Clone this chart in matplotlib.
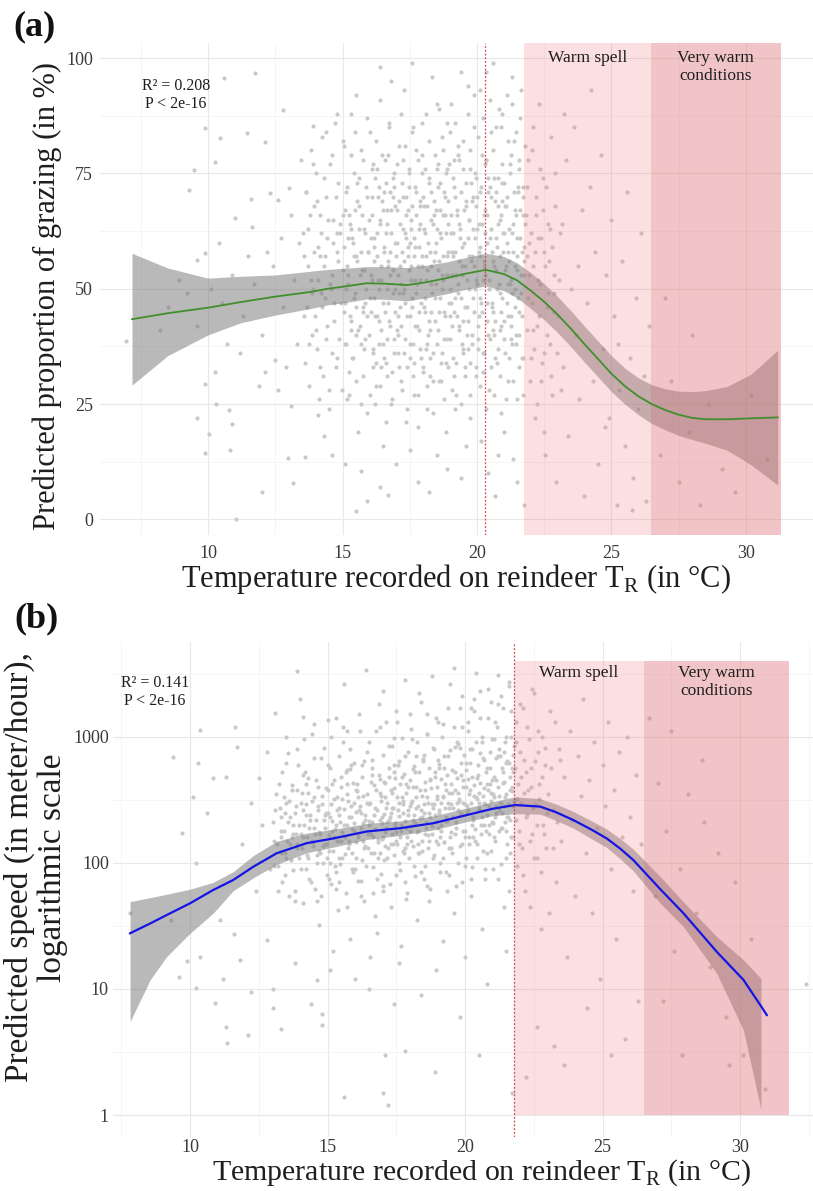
import matplotlib
matplotlib.use("Agg")
import numpy as np
import matplotlib.pyplot as plt
from matplotlib.patches import Rectangle
from matplotlib.ticker import FixedLocator, NullFormatter, FixedFormatter

plt.rcParams['font.family'] = ['Liberation Serif', 'DejaVu Serif']

# ---------------- panel (a): grazing ----------------
temp_fit_a = [7.17, 8.5, 10.0, 11.2, 12.5, 13.8, 14.45, 15.2, 15.9, 16.6, 17.4, 18.1, 18.86, 19.6,
              20.33, 21.0, 21.5, 22.0, 22.5, 23.0, 23.5, 24.0, 24.5, 25.0, 25.5, 26.0, 26.5,
              27.0, 27.5, 28.0, 28.5, 29.3, 30.2, 31.19]
graze_fit_a = [43.4, 44.7, 45.9, 47.1, 48.3, 49.3, 50.0, 50.6, 51.2, 51.1, 50.8, 51.4, 52.3, 53.3,
               54.1, 53.2, 51.8, 49.6, 47.2, 44.4, 41.3, 38.0, 34.8, 31.6, 28.9, 26.7, 25.0,
               23.7, 22.7, 22.0, 21.7, 21.7, 21.9, 22.1]
graze_hi_a = [57.7, 54.5, 52.3, 52.7, 53.0, 53.8, 54.2, 54.5, 54.8, 54.8, 54.6, 55.1, 55.8, 56.8,
              57.7, 57.0, 55.6, 53.5, 51.1, 48.3, 45.2, 41.9, 38.7, 35.5, 32.8, 30.7, 29.2,
              28.3, 27.8, 27.7, 27.9, 28.8, 31.5, 36.7]
graze_lo_a = [29.1, 35.5, 40.0, 42.6, 44.3, 45.7, 46.5, 47.1, 47.8, 47.7, 47.4, 48.0, 48.9, 49.9,
              50.6, 49.6, 48.0, 45.7, 43.3, 40.5, 37.4, 34.1, 30.9, 27.7, 25.0, 22.7, 20.8,
              19.4, 18.2, 17.3, 16.5, 15.0, 11.8, 7.4]

# sparse observations + first pass over the cloud
obs_a = [
    (6.95, 38.7), (8.2, 41), (8.5, 46), (8.9, 52), (9.2, 49), (9.3, 71.4), (9.47, 75.7), (9.9, 84.8),
    (9.58, 56.2), (9.9, 57.7), (9.6, 42), (9.87, 29.3), (9.9, 14.4), (9.6, 22),
    (10.27, 77.6), (10.45, 82.6), (10.6, 95.7), (11.0, 65.3), (11.44, 83.7), (11.74, 96.7), (11.6, 69.5),
    (11.65, 63.3), (12.1, 81.9), (12.3, 70.7), (12.6, 69.3), (12.79, 88.8), (12.73, 61.0), (13.0, 71.8),
    (13.46, 77.9), (13.9, 85.2), (14.4, 84.1), (10.27, 31.9), (10.3, 25), (10.05, 18.4), (10.76, 23.7),
    (10.9, 20.6), (10.8, 15), (11.99, 5.9), (11.05, 0), (12.1, 32), (12.5, 34.5), (13.1, 24.5),
    (13.16, 7.8), (12.97, 13.4), (13.6, 13.6), (14.1, 22.6), (14.6, 14), (15.5, 1.9), (15.7, 10.5),
    (16.4, 7), (16.7, 5.3), (10.1, 50), (10.5, 47), (10.9, 53), (11.3, 44), (11.7, 51), (12.0, 40),
    (12.4, 55), (12.8, 46), (13.2, 52), (13.3, 38), (11.2, 36), (12.2, 58), (10.7, 38), (11.9, 29),
    (12.9, 33), (13.4, 60), (12.6, 28), (11.5, 57), (13.1, 66), (10.4, 60),
    (13.52, 62), (13.58, 44), (13.63, 71), (13.7, 55), (13.74, 38), (13.8, 66), (13.86, 49), (13.9, 77),
    (13.95, 58), (14.02, 41), (14.06, 69), (14.1, 52), (14.15, 33), (14.2, 62), (14.24, 46), (14.3, 74),
    (14.34, 57), (14.4, 39), (14.45, 65), (14.5, 28), (14.55, 51), (14.6, 79), (14.63, 60), (14.7, 43),
    (14.75, 70), (14.8, 35), (14.85, 56), (14.9, 64), (14.95, 47), (15.0, 82),
    (15.04, 59), (15.08, 38), (15.12, 71), (15.16, 26), (15.2, 53), (15.24, 66), (15.28, 44), (15.32, 88),
    (15.36, 61), (15.4, 35), (15.44, 75), (15.48, 49), (15.52, 57), (15.56, 19), (15.6, 68), (15.64, 42),
    (15.68, 80), (15.72, 54), (15.76, 31), (15.8, 63), (15.84, 47), (15.88, 72), (15.92, 23), (15.96, 58),
    (16.02, 84), (16.06, 45), (16.1, 66), (16.14, 37), (16.18, 56), (16.22, 74), (16.26, 29), (16.3, 62),
    (16.34, 50), (16.38, 91), (16.42, 41), (16.46, 69), (16.5, 16), (16.54, 58), (16.58, 78), (16.62, 34),
    (16.66, 64), (16.7, 47), (16.74, 86), (16.78, 53), (16.82, 25), (16.86, 70), (16.9, 39), (16.94, 60),
    (16.98, 12), (17.02, 67), (17.06, 44), (17.1, 81), (17.14, 55), (17.18, 30), (17.22, 73), (17.26, 49),
    (17.3, 93), (17.34, 62), (17.38, 21), (17.42, 57), (17.46, 76), (17.5, 38), (17.54, 65), (17.58, 46),
    (17.62, 85), (17.66, 27), (17.7, 59), (17.74, 71), (17.78, 42), (17.82, 8), (17.86, 63), (17.9, 52),
    (17.94, 79), (17.98, 33), (18.02, 68), (18.06, 48), (18.1, 88), (18.14, 24), (18.18, 60), (18.22, 74),
    (18.26, 41), (18.3, 55), (18.34, 96), (18.38, 36), (18.42, 66), (18.46, 51), (18.5, 14), (18.54, 77),
    (18.58, 45), (18.62, 62), (18.66, 30), (18.7, 83), (18.74, 57), (18.78, 39), (18.82, 70), (18.86, 19),
    (18.9, 53), (18.94, 64), (18.98, 44), (19.02, 90), (19.06, 58), (19.1, 35), (19.14, 72), (19.18, 48),
    (19.22, 27), (19.26, 66), (19.3, 81), (19.34, 42), (19.38, 61), (19.42, 9), (19.46, 53), (19.5, 76),
    (19.54, 33), (19.58, 68), (19.62, 46), (19.66, 94), (19.7, 57), (19.74, 22), (19.78, 73), (19.82, 40),
    (19.86, 63), (19.9, 85), (19.94, 50), (19.98, 31), (20.02, 70), (20.06, 44), (20.1, 59), (20.14, 17),
    (20.18, 79), (20.22, 52), (20.26, 36), (20.3, 67), (20.34, 97), (20.38, 47), (20.42, 74), (20.46, 28),
    (20.5, 61), (20.54, 84), (20.58, 41), (20.62, 55), (20.66, 5), (20.7, 71), (20.74, 34), (20.78, 64),
    (20.82, 89), (20.86, 49), (20.9, 23), (20.94, 77), (20.98, 58), (21.02, 43), (21.06, 68), (21.1, 92),
    (21.14, 30), (21.18, 56), (21.22, 75), (21.26, 39), (21.3, 62), (21.34, 13), (21.38, 82), (21.42, 50),
    (21.46, 66), (21.5, 26), (21.54, 71), (21.58, 45), (21.62, 87), (21.66, 58), (21.7, 35), (21.74, 3),
    (21.78, 64),
    (15.1, 47), (15.3, 63), (15.5, 40), (15.7, 58), (15.9, 70), (16.1, 52), (16.3, 44), (16.5, 67),
    (16.7, 56), (16.9, 75), (17.1, 49), (17.3, 36), (17.5, 60), (17.7, 52), (17.9, 68), (18.1, 57),
    (18.3, 45), (18.5, 63), (18.7, 50), (18.9, 76), (19.1, 62), (19.3, 51), (19.5, 43), (19.7, 65),
    (19.9, 55), (20.1, 48), (20.3, 62), (20.5, 72), (20.7, 54), (20.9, 42), (21.1, 60), (21.3, 49),
    (21.5, 57), (21.7, 70), (15.15, 55), (15.45, 67), (15.75, 45), (16.05, 61), (16.35, 72), (16.65, 39),
    (16.95, 50), (17.25, 63), (17.55, 55), (17.85, 45), (18.15, 38), (18.45, 58), (18.75, 66), (19.05, 47),
    (19.35, 56), (19.65, 37), (19.95, 68), (20.25, 56), (20.55, 46), (20.85, 65), (21.15, 51), (21.45, 40),
    (21.75, 53), (15.25, 32), (15.85, 39), (16.45, 33), (17.05, 40), (17.65, 34), (18.25, 31), (18.85, 34),
    (19.45, 38), (20.05, 39), (20.65, 40), (21.25, 44), (15.55, 73), (16.15, 77), (16.75, 71), (17.35, 70),
    (17.95, 75), (18.55, 72), (19.15, 78), (19.75, 80), (20.35, 78), (20.95, 69), (21.55, 78),
    (14.3, 18), (15.1, 12), (15.9, 4), (16.6, 21), (17.5, 15), (18.2, 6), (18.9, 11), (19.6, 16),
    (20.4, 10), (21.0, 19), (21.5, 8), (16.2, 25), (19.2, 24), (20.8, 14), (17.8, 20),
    (14.8, 88), (15.5, 92), (16.8, 95), (17.6, 99), (18.6, 89), (19.4, 97), (20.1, 93), (20.6, 99),
    (21.3, 96), (18.9, 86), (20.9, 85), (16.4, 98),
    (21.85, 72), (21.9, 48), (21.95, 60), (22.0, 35), (22.05, 80), (22.1, 55), (22.15, 22), (22.2, 66),
    (22.25, 42), (22.3, 90), (22.35, 51), (22.4, 30), (22.45, 74), (22.5, 58), (22.55, 14), (22.6, 46),
    (22.65, 64), (22.7, 38), (22.75, 83), (22.8, 27), (22.85, 53), (22.9, 68), (22.95, 8), (23.0, 44),
    (21.88, 57), (22.08, 41), (22.28, 61), (22.48, 36), (22.68, 56), (22.88, 49),
    (23.1, 62), (23.2, 33), (23.3, 78), (23.4, 18), (23.5, 50), (23.6, 85), (23.7, 40), (23.8, 26),
    (23.9, 67), (24.0, 5), (24.1, 47), (24.2, 72), (24.3, 30), (24.4, 58), (24.5, 12), (24.6, 79),
    (24.7, 37), (24.8, 53), (24.9, 22), (25.0, 65), (25.1, 44), (25.2, 3), (25.3, 28), (25.4, 56),
    (25.5, 16), (25.6, 71), (25.7, 35), (25.8, 9), (25.9, 48), (26.0, 24), (26.1, 62), (26.2, 31),
    (26.3, 4), (26.4, 42), (23.25, 88), (23.75, 55), (24.25, 93), (24.75, 20), (25.25, 38), (25.75, 2),
    (26.8, 14), (27.2, 30), (27.5, 8), (27.9, 19), (28.3, 3), (28.6, 25), (29.1, 11), (29.6, 6),
    (30.2, 27), (30.8, 13), (27.0, 48), (28.0, 40),
]

# second and third pass over the dense part of the cloud
obs_a_core = [
    (13.55, 57), (13.6, 34), (13.64, 71), (13.69, 46), (13.72, 63), (13.77, 29), (13.81, 80), (13.84, 52),
    (13.88, 40), (13.93, 68), (13.97, 44), (14.0, 75), (14.04, 37), (14.09, 59), (14.12, 26), (14.17, 66),
    (14.21, 49), (14.25, 83), (14.28, 31), (14.32, 55), (14.37, 70), (14.41, 42), (14.44, 61), (14.48, 24),
    (14.53, 77), (14.57, 50), (14.61, 36), (14.65, 65), (14.68, 47), (14.72, 86), (14.77, 33), (14.81, 58),
    (14.84, 73), (14.88, 39), (14.92, 62), (14.97, 28),
    (15.01, 54), (15.05, 81), (15.07, 45), (15.11, 67), (15.14, 38), (15.17, 72), (15.21, 51), (15.23, 27),
    (15.27, 64), (15.3, 43), (15.33, 79), (15.37, 35), (15.39, 60), (15.43, 48), (15.46, 84), (15.49, 30),
    (15.53, 56), (15.55, 69), (15.59, 41), (15.62, 74), (15.65, 53), (15.69, 25), (15.71, 66), (15.75, 46),
    (15.78, 78), (15.81, 37), (15.85, 62), (15.87, 50), (15.91, 87), (15.94, 58), (15.97, 40), (16.0, 65),
    (16.03, 27), (16.07, 53), (16.09, 76), (16.13, 36), (16.16, 61), (16.19, 48), (16.23, 82), (16.25, 34),
    (16.29, 57), (16.32, 70), (16.35, 43), (16.39, 29), (16.41, 64), (16.45, 52), (16.48, 79), (16.51, 38),
    (16.55, 59), (16.57, 45), (16.61, 73), (16.64, 31), (16.67, 67), (16.71, 55), (16.73, 85), (16.77, 42),
    (16.8, 62), (16.83, 26), (16.86, 74), (16.89, 49), (16.92, 36), (16.96, 68), (16.99, 57),
    (17.01, 41), (17.04, 77), (17.07, 53), (17.09, 33), (17.12, 64), (17.15, 46), (17.17, 88), (17.2, 58),
    (17.23, 28), (17.25, 70), (17.28, 50), (17.31, 39), (17.33, 81), (17.36, 61), (17.39, 44), (17.41, 24),
    (17.44, 67), (17.47, 54), (17.49, 75), (17.52, 35), (17.55, 63), (17.57, 48), (17.6, 84), (17.63, 31),
    (17.65, 57), (17.68, 72), (17.71, 42), (17.73, 66), (17.76, 51), (17.79, 27), (17.81, 78), (17.84, 59),
    (17.87, 37), (17.89, 69), (17.92, 47), (17.95, 86), (17.97, 55), (18.0, 32), (18.03, 63), (18.05, 45),
    (18.08, 76), (18.11, 52), (18.13, 29), (18.16, 68), (18.19, 40), (18.21, 82), (18.24, 58), (18.27, 35),
    (18.29, 71), (18.32, 49), (18.35, 64), (18.37, 23), (18.4, 56), (18.43, 79), (18.45, 43), (18.48, 67),
    (18.51, 38), (18.53, 90), (18.56, 54), (18.59, 30), (18.61, 73), (18.64, 48), (18.67, 61), (18.69, 36),
    (18.72, 80), (18.75, 52), (18.77, 26), (18.8, 66), (18.83, 44), (18.85, 75), (18.88, 57), (18.91, 33),
    (18.93, 69), (18.96, 47), (18.99, 84),
    (19.01, 39), (19.04, 62), (19.07, 53), (19.09, 28), (19.12, 74), (19.15, 45), (19.17, 86), (19.2, 58),
    (19.23, 34), (19.25, 67), (19.28, 49), (19.31, 79), (19.33, 41), (19.36, 63), (19.39, 25), (19.41, 71),
    (19.44, 55), (19.47, 37), (19.49, 82), (19.52, 60), (19.55, 46), (19.57, 31), (19.6, 69), (19.63, 52),
    (19.65, 88), (19.68, 43), (19.71, 65), (19.73, 27), (19.76, 76), (19.79, 56), (19.81, 38), (19.84, 70),
    (19.87, 48), (19.89, 92), (19.92, 61), (19.95, 33), (19.97, 74), (20.0, 51), (20.03, 42), (20.05, 83),
    (20.08, 64), (20.11, 29), (20.13, 57), (20.16, 72), (20.19, 45), (20.21, 87), (20.24, 36), (20.27, 66),
    (20.29, 53), (20.32, 24), (20.35, 78), (20.37, 60), (20.4, 40), (20.43, 71), (20.45, 50), (20.48, 91),
    (20.51, 33), (20.53, 63), (20.56, 47), (20.59, 80), (20.61, 56), (20.64, 27), (20.67, 69), (20.69, 43),
    (20.72, 85), (20.75, 59), (20.77, 37), (20.8, 74), (20.83, 51), (20.85, 31), (20.88, 66), (20.91, 45),
    (20.93, 88), (20.96, 62), (20.99, 39), (21.01, 73), (21.04, 54), (21.07, 26), (21.09, 68), (21.12, 47),
    (21.15, 82), (21.17, 58), (21.2, 35), (21.23, 77), (21.25, 52), (21.28, 42), (21.31, 90), (21.33, 64),
    (21.36, 30), (21.39, 71), (21.41, 55), (21.44, 84), (21.47, 38), (21.49, 61), (21.52, 48), (21.55, 76),
    (21.57, 33), (21.6, 67), (21.63, 53), (21.65, 93), (21.68, 44), (21.71, 72), (21.73, 27), (21.76, 59),
    (21.78, 81),
    (21.82, 66), (21.86, 41), (21.89, 78), (21.93, 53), (21.97, 30), (22.01, 62), (22.04, 47), (22.08, 85),
    (22.12, 37), (22.16, 58), (22.19, 70), (22.23, 25), (22.27, 52), (22.31, 44), (22.34, 76), (22.38, 61),
    (22.42, 34), (22.46, 67), (22.5, 19), (22.54, 55), (22.58, 72), (22.62, 40), (22.66, 49), (22.7, 63),
    (22.75, 31), (22.8, 59), (22.86, 45), (22.92, 75), (22.98, 36), (23.05, 52), (23.12, 28), (23.18, 64),
    (16.02, 48), (16.08, 70), (16.12, 33), (16.17, 59), (16.21, 44), (16.27, 76), (16.31, 52), (16.36, 38),
    (16.4, 65), (16.44, 55), (16.49, 47), (16.53, 71), (16.56, 35), (16.6, 62), (16.65, 50), (16.69, 79),
    (16.72, 43), (16.76, 58), (16.81, 67), (16.85, 32), (16.88, 54), (16.93, 72), (16.97, 45),
    (17.03, 60), (17.08, 36), (17.11, 69), (17.16, 51), (17.19, 42), (17.24, 78), (17.27, 56), (17.32, 47),
    (17.35, 66), (17.4, 33), (17.43, 59), (17.48, 72), (17.51, 44), (17.56, 52), (17.59, 68), (17.64, 38),
    (17.67, 61), (17.72, 49), (17.75, 80), (17.8, 55), (17.83, 41), (17.88, 64), (17.91, 35), (17.96, 57),
    (17.99, 70), (18.04, 46), (18.07, 62), (18.12, 37), (18.15, 54), (18.2, 73), (18.23, 43), (18.28, 65),
    (18.31, 51), (18.36, 30), (18.39, 69), (18.44, 48), (18.47, 60), (18.52, 76), (18.55, 41), (18.6, 56),
    (18.63, 67), (18.68, 34), (18.71, 53), (18.76, 71), (18.79, 45), (18.84, 62), (18.87, 39), (18.92, 58),
    (18.95, 77), (19.0, 50), (19.03, 66), (19.08, 42), (19.11, 57), (19.16, 31), (19.19, 70), (19.24, 53),
    (19.27, 44), (19.32, 64), (19.35, 78), (19.4, 48), (19.43, 59), (19.48, 36), (19.51, 67), (19.56, 55),
    (19.59, 73), (19.64, 40), (19.67, 61), (19.72, 50), (19.75, 34), (19.8, 69), (19.83, 57), (19.88, 45),
    (19.91, 75), (19.96, 52), (19.99, 63), (20.04, 37), (20.07, 58), (20.12, 71), (20.15, 47), (20.2, 64),
    (20.23, 32), (20.28, 55), (20.31, 77), (20.36, 43), (20.39, 66), (20.44, 52), (20.47, 39), (20.52, 70),
    (20.55, 58), (20.6, 45), (20.63, 74), (20.68, 35), (20.71, 61), (20.76, 50), (20.79, 68), (20.84, 41),
    (20.87, 57), (20.92, 73), (20.95, 48), (21.0, 62), (21.03, 36), (21.08, 55), (21.11, 70), (21.16, 44),
    (21.19, 63), (21.24, 51), (21.27, 79), (21.32, 38), (21.35, 58), (21.4, 67), (21.43, 46), (21.48, 54),
    (21.51, 72), (21.56, 40), (21.59, 61), (21.64, 49), (21.67, 35), (21.72, 66), (21.75, 56),
    (15.03, 66), (15.13, 50), (15.22, 61), (15.31, 41), (15.41, 57), (15.51, 46), (15.61, 63), (15.7, 38),
    (15.8, 54), (15.9, 44), (14.6, 53), (14.78, 62), (14.35, 48), (14.15, 57), (13.9, 50),
]

warm_a = (21.76, 26.47)
very_warm_a = (26.47, 31.3)
ref_temp_a = 20.3

# ---------------- panel (b): speed ----------------
temp_ci_b = [7.82, 8.55, 9.15, 10.0, 10.84, 11.57, 12.3, 13.15, 14.24, 15.21, 16.42, 17.64,
             18.85, 20.06, 21.0, 21.82, 22.73, 23.3, 23.94, 24.6, 25.15, 25.65, 26.12, 27.09,
             27.94, 29.15, 30.12, 30.76]
speed_hi_b = [49.2, 52.9, 56.3, 61.7, 70, 85, 114, 148, 172, 184, 205, 215,
              235, 272, 305, 334, 322, 293, 255, 215, 185, 155, 128, 78,
              49, 26, 17, 12.1]
speed_lo_b = [5.5, 11.8, 18, 27.6, 39.8, 60, 76, 97, 120, 133, 153, 165,
              182, 212, 236, 245, 243, 217, 188, 155, 132, 107, 86, 48,
              31.1, 13.3, 4.7, 1.1]
temp_fit_b = [7.82, 8.55, 9.15, 10.0, 10.84, 11.57, 12.3, 13.15, 14.24, 15.21, 16.42, 17.64,
              18.85, 20.06, 21.0, 21.82, 22.73, 23.3, 23.94, 24.6, 25.15, 25.65, 26.12, 27.09,
              27.94, 29.15, 30.12, 30.76, 30.97]
speed_fit_b = [27.6, 33, 38.5, 47.7, 60.8, 73, 93, 119, 143, 156, 177, 188,
               206, 239, 268, 287, 279, 252, 218, 183, 156, 129, 105, 62,
               39.8, 19.7, 11.8, 7.3, 6.2]

obs_b = [
    (9.39, 694), (10.36, 1125), (10.3, 617), (11.64, 1200), (10.85, 470), (11.3, 480), (11.7, 830),
    (10.1, 333), (10.6, 248), (9.7, 172), (10.2, 100), (12.2, 297), (12.5, 470), (13.1, 1550),
    (12.8, 760), (13.5, 1000), (13.9, 3300), (14.1, 1440), (14.5, 1260), (15.0, 1350),
    (7.8, 40), (9.32, 35), (9.6, 12.5), (9.9, 16.6), (10.2, 10.2), (10.9, 7.7), (11.2, 11.9),
    (11.3, 5.0), (11.35, 3.7), (12.1, 4.3), (12.2, 9.5), (13.0, 10), (13.0, 7), (13.3, 4.8),
    (14.4, 7.6), (14.8, 6.3), (14.8, 5.2), (15.6, 1.4), (17.0, 1.5), (17.1, 3.0), (16.5, 10),
    (17.4, 7.6), (17.8, 3.2), (10.36, 18), (11.8, 17), (13.8, 16), (12.8, 24.5), (11.6, 27),
    (11.1, 35), (14.6, 11.8), (15.1, 14), (11.9, 140), (12.6, 200), (12.9, 90), (12.4, 60),
    (13.05, 150), (13.1, 260), (13.2, 95), (13.25, 420), (13.3, 180), (13.35, 70), (13.4, 330),
    (13.45, 120), (13.5, 620), (13.55, 210), (13.6, 55), (13.65, 140), (13.7, 380), (13.75, 88),
    (13.8, 250), (13.85, 170), (13.9, 800), (13.95, 110),
    (14.02, 300), (14.06, 130), (14.1, 48), (14.14, 200), (14.18, 520), (14.22, 90), (14.26, 160),
    (14.3, 360), (14.34, 75), (14.38, 240), (14.42, 1050), (14.46, 135), (14.5, 190), (14.54, 62),
    (14.58, 450), (14.62, 115), (14.66, 280), (14.7, 32), (14.74, 170), (14.78, 680), (14.82, 100),
    (14.86, 220), (14.9, 140), (14.94, 390), (14.98, 80),
    (15.02, 250), (15.06, 125), (15.1, 560), (15.14, 68), (15.18, 180), (15.22, 320), (15.26, 95),
    (15.3, 1400), (15.34, 150), (15.38, 42), (15.42, 270), (15.46, 210), (15.5, 480), (15.54, 110),
    (15.58, 900), (15.62, 160), (15.66, 58), (15.7, 350), (15.74, 130), (15.78, 230), (15.82, 25),
    (15.86, 600), (15.9, 185), (15.94, 85), (15.98, 300),
    (16.02, 145), (16.06, 420), (16.1, 72), (16.14, 260), (16.18, 1100), (16.22, 190), (16.26, 105),
    (16.3, 340), (16.34, 50), (16.38, 220), (16.42, 750), (16.46, 130), (16.5, 290), (16.54, 18),
    (16.58, 170), (16.62, 500), (16.66, 92), (16.7, 240), (16.74, 38), (16.78, 380), (16.82, 155),
    (16.86, 1800), (16.9, 120), (16.94, 310), (16.98, 205),
    (17.02, 65), (17.06, 440), (17.1, 175), (17.14, 270), (17.18, 110), (17.22, 850), (17.26, 230),
    (17.3, 45), (17.34, 360), (17.38, 140), (17.42, 600), (17.46, 200), (17.5, 80), (17.54, 1300),
    (17.58, 300), (17.62, 160), (17.66, 22), (17.7, 480), (17.74, 250), (17.78, 120), (17.82, 700),
    (17.86, 190), (17.9, 58), (17.94, 400), (17.98, 280),
    (18.02, 150), (18.06, 950), (18.1, 220), (18.14, 95), (18.18, 520), (18.22, 330), (18.26, 35),
    (18.3, 180), (18.34, 2200), (18.38, 260), (18.42, 125), (18.46, 640), (18.5, 75), (18.54, 380),
    (18.58, 210), (18.62, 1500), (18.66, 165), (18.7, 50), (18.74, 450), (18.78, 290), (18.82, 110),
    (18.86, 800), (18.9, 240), (18.94, 14), (18.98, 340),
    (19.02, 190), (19.06, 560), (19.1, 85), (19.14, 300), (19.18, 1250), (19.22, 145), (19.26, 420),
    (19.3, 230), (19.34, 60), (19.38, 700), (19.42, 270), (19.46, 2600), (19.5, 130), (19.54, 360),
    (19.58, 40), (19.62, 520), (19.66, 210), (19.7, 900), (19.74, 100), (19.78, 320), (19.82, 1700),
    (19.86, 250), (19.9, 70), (19.94, 450), (19.98, 180),
    (20.02, 620), (20.06, 280), (20.1, 1100), (20.14, 140), (20.18, 380), (20.22, 55), (20.26, 800),
    (20.3, 230), (20.34, 2000), (20.38, 330), (20.42, 110), (20.46, 500), (20.5, 260), (20.54, 1400),
    (20.58, 170), (20.62, 30), (20.66, 680), (20.7, 300), (20.74, 90), (20.78, 420), (20.82, 2400),
    (20.86, 200), (20.9, 560), (20.94, 125), (20.98, 950),
    (21.02, 350), (21.06, 160), (21.1, 1300), (21.14, 450), (21.18, 75), (21.22, 260), (21.26, 700),
    (21.3, 2100), (21.34, 190), (21.38, 520), (21.42, 45), (21.46, 330), (21.5, 1000), (21.54, 230),
    (21.58, 620), (21.62, 120), (21.66, 1600), (21.7, 400), (21.74, 280), (21.78, 850),
    (13.3, 230), (13.7, 160), (14.1, 260), (14.5, 330), (14.9, 240), (15.3, 200), (15.7, 420),
    (16.1, 330), (16.5, 200), (16.9, 460), (17.3, 250), (17.7, 330), (18.1, 400), (18.5, 290),
    (18.9, 520), (19.3, 380), (19.7, 300), (20.1, 460), (20.5, 360), (20.9, 420), (21.3, 300),
    (21.7, 560), (13.5, 110), (13.9, 140), (14.3, 110), (14.7, 125), (15.1, 100), (15.5, 150),
    (15.9, 120), (16.3, 150), (16.7, 120), (17.1, 135), (17.5, 150), (17.9, 140), (18.3, 120),
    (18.7, 150), (19.1, 160), (19.5, 175), (19.9, 140), (20.3, 160), (20.7, 200), (21.1, 230),
    (21.5, 180), (14.2, 420), (15.0, 600), (15.8, 550), (16.6, 650), (17.4, 520), (18.2, 700),
    (19.0, 650), (19.8, 820), (20.6, 900), (21.4, 750), (13.8, 60), (14.6, 50), (15.4, 70),
    (16.2, 55), (17.0, 60), (17.8, 70), (18.6, 65), (19.4, 80), (20.2, 75), (21.0, 90), (21.6, 60),
    (15.2, 20), (16.0, 12), (16.8, 28), (17.6, 16), (18.4, 9), (19.2, 24), (20.0, 18), (20.8, 11),
    (21.5, 20), (19.8, 6), (20.5, 3), (18.9, 2.2), (21.7, 1.5), (17.2, 1.2),
    (14.0, 2000), (15.6, 2600), (16.4, 3400), (17.8, 2800), (18.8, 3000), (19.6, 3500), (20.4, 3200),
    (21.2, 3100), (17.0, 2300), (21.6, 2700),
    (21.85, 900), (21.9, 320), (21.95, 140), (22.0, 1800), (22.05, 480), (22.1, 80), (22.15, 650),
    (22.2, 230), (22.25, 1200), (22.3, 380), (22.35, 45), (22.4, 560), (22.45, 170), (22.5, 2200),
    (22.55, 290), (22.6, 110), (22.65, 750), (22.7, 420), (22.75, 30), (22.8, 1000), (22.85, 200),
    (22.9, 600), (22.95, 130), (23.0, 350),
    (23.1, 1600), (23.2, 260), (23.3, 70), (23.4, 800), (23.5, 150), (23.6, 480), (23.7, 18),
    (23.8, 1100), (23.9, 220), (24.0, 55), (24.1, 700), (24.2, 340), (24.3, 2000), (24.4, 120),
    (24.5, 450), (24.6, 40), (24.7, 900), (24.8, 190), (24.9, 12), (25.0, 600), (25.1, 280),
    (25.2, 1300), (25.3, 90), (25.4, 380), (25.5, 25), (25.6, 750), (25.7, 160), (25.8, 4),
    (25.9, 1000), (26.0, 230), (26.1, 60), (26.2, 500), (26.3, 8), (26.4, 140),
    (23.25, 3.5), (24.45, 7), (22.6, 5), (23.6, 2.5), (25.3, 3), (22.2, 2),
    (26.7, 1400), (27.0, 430), (27.3, 180), (27.5, 1100), (27.8, 90), (28.1, 350), (28.4, 40),
    (28.7, 210), (28.9, 15), (29.2, 120), (29.5, 6), (29.8, 70), (30.1, 3), (30.4, 25), (27.2, 8),
    (27.9, 3), (28.6, 650), (29.6, 2.5), (30.9, 1.6), (32.4, 11), (26.9, 55), (27.6, 20),
]

obs_b_core = [
    (13.02, 210), (13.07, 95), (13.12, 350), (13.16, 140), (13.21, 60), (13.26, 270), (13.3, 120),
    (13.35, 520), (13.4, 180), (13.44, 80), (13.49, 300), (13.53, 150), (13.58, 740), (13.62, 230),
    (13.67, 105), (13.71, 410), (13.76, 170), (13.8, 50), (13.85, 280), (13.89, 130), (13.94, 600),
    (13.98, 200), (14.03, 90), (14.07, 360), (14.12, 160), (14.16, 950), (14.21, 240), (14.25, 115),
    (14.3, 470), (14.34, 190), (14.39, 70), (14.43, 310), (14.48, 145), (14.52, 680), (14.57, 220),
    (14.61, 100), (14.66, 400), (14.7, 175), (14.75, 55), (14.79, 290), (14.84, 135), (14.88, 820),
    (14.93, 250), (14.97, 110),
    (15.01, 380), (15.04, 165), (15.07, 75), (15.11, 290), (15.14, 1000), (15.17, 215), (15.2, 125),
    (15.24, 450), (15.27, 185), (15.3, 62), (15.33, 330), (15.37, 150), (15.4, 700), (15.43, 240),
    (15.46, 98), (15.5, 400), (15.53, 175), (15.56, 1200), (15.59, 265), (15.63, 118), (15.66, 520),
    (15.69, 200), (15.72, 45), (15.76, 310), (15.79, 140), (15.82, 800), (15.85, 230), (15.89, 90),
    (15.92, 430), (15.95, 180), (15.98, 620), (16.02, 255), (16.05, 110), (16.08, 370), (16.11, 160),
    (16.15, 1500), (16.18, 280), (16.21, 72), (16.24, 480), (16.28, 205), (16.31, 130), (16.34, 640),
    (16.37, 240), (16.41, 95), (16.44, 350), (16.47, 170), (16.5, 900), (16.54, 300), (16.57, 120),
    (16.6, 560), (16.63, 210), (16.67, 58), (16.7, 410), (16.73, 185), (16.76, 1100), (16.8, 260),
    (16.83, 145), (16.86, 500), (16.89, 220), (16.93, 82), (16.96, 340), (16.99, 155),
    (17.01, 720), (17.04, 245), (17.06, 105), (17.09, 430), (17.12, 190), (17.14, 1300), (17.17, 300),
    (17.2, 130), (17.22, 560), (17.25, 220), (17.28, 68), (17.3, 380), (17.33, 170), (17.36, 850),
    (17.38, 270), (17.41, 115), (17.44, 470), (17.46, 205), (17.49, 1600), (17.52, 330), (17.54, 140),
    (17.57, 600), (17.6, 235), (17.62, 88), (17.65, 420), (17.68, 180), (17.7, 980), (17.73, 290),
    (17.76, 125), (17.78, 510), (17.81, 215), (17.84, 52), (17.86, 360), (17.89, 160), (17.92, 760),
    (17.94, 260), (17.97, 110), (18.0, 450), (18.02, 195), (18.05, 1150), (18.08, 310), (18.1, 135),
    (18.13, 580), (18.16, 240), (18.18, 78), (18.21, 400), (18.24, 175), (18.26, 900), (18.29, 280),
    (18.32, 120), (18.34, 520), (18.37, 225), (18.4, 1900), (18.42, 340), (18.45, 150), (18.48, 660),
    (18.5, 250), (18.53, 95), (18.56, 440), (18.58, 190), (18.61, 1050), (18.64, 300), (18.66, 130),
    (18.69, 560), (18.72, 230), (18.74, 62), (18.77, 390), (18.8, 170), (18.82, 820), (18.85, 270),
    (18.88, 115), (18.9, 480), (18.93, 210), (18.96, 1400), (18.98, 320),
    (19.01, 140), (19.04, 610), (19.06, 250), (19.09, 100), (19.12, 460), (19.14, 200), (19.17, 1000),
    (19.2, 330), (19.22, 145), (19.25, 700), (19.28, 270), (19.3, 85), (19.33, 500), (19.36, 215),
    (19.38, 1700), (19.41, 360), (19.44, 160), (19.46, 780), (19.49, 290), (19.52, 120), (19.54, 540),
    (19.57, 230), (19.6, 1200), (19.62, 380), (19.65, 170), (19.68, 66), (19.7, 470), (19.73, 260),
    (19.76, 880), (19.78, 310), (19.81, 135), (19.84, 620), (19.86, 240), (19.89, 2100), (19.92, 400),
    (19.94, 180), (19.97, 720), (20.0, 290), (20.02, 110), (20.05, 540), (20.08, 250), (20.1, 1300),
    (20.13, 350), (20.16, 160), (20.18, 800), (20.21, 300), (20.24, 92), (20.26, 480), (20.29, 220),
    (20.32, 1600), (20.34, 410), (20.37, 185), (20.4, 900), (20.42, 320), (20.45, 140), (20.48, 600),
    (20.5, 270), (20.53, 2300), (20.56, 430), (20.58, 200), (20.61, 1000), (20.64, 340), (20.66, 125),
    (20.69, 650), (20.72, 290), (20.74, 75), (20.77, 520), (20.8, 240), (20.82, 1400), (20.85, 380),
    (20.88, 170), (20.9, 760), (20.93, 310), (20.96, 1900), (20.98, 450), (21.01, 205), (21.04, 960),
    (21.06, 330), (21.09, 150), (21.12, 680), (21.14, 280), (21.17, 1200), (21.2, 400), (21.22, 180),
    (21.25, 800), (21.28, 300), (21.3, 98), (21.33, 560), (21.36, 250), (21.38, 1700), (21.41, 440),
    (21.44, 210), (21.46, 900), (21.49, 350), (21.52, 140), (21.54, 640), (21.57, 290), (21.6, 2500),
    (21.62, 480), (21.65, 220), (21.68, 1000), (21.7, 370), (21.73, 160), (21.76, 720), (21.78, 310),
    (21.81, 560), (21.84, 220), (21.87, 1300), (21.9, 95), (21.94, 420), (21.97, 180), (22.01, 750),
    (22.04, 300), (22.08, 130), (22.12, 1700), (22.15, 360), (22.19, 60), (22.23, 520), (22.27, 240),
    (22.31, 950), (22.35, 150), (22.39, 400), (22.43, 2400), (22.47, 270), (22.51, 110), (22.56, 640),
    (22.6, 200), (22.65, 1100), (22.7, 320), (22.75, 85), (22.8, 480), (22.86, 170), (22.92, 820),
    (22.98, 250), (23.05, 40), (23.12, 560), (23.2, 130), (23.28, 1300), (23.36, 210), (23.45, 650),
    (14.55, 170), (14.64, 260), (14.73, 120), (14.81, 340), (14.9, 190), (14.99, 140), (15.08, 230),
    (15.16, 420), (15.25, 160), (15.34, 260), (15.43, 110), (15.52, 320), (15.61, 200), (15.7, 540),
    (15.78, 150), (15.87, 280), (15.96, 205), (16.04, 380), (16.12, 170), (16.2, 250), (16.27, 600),
    (16.35, 135), (16.43, 300), (16.51, 215), (16.59, 440), (16.66, 160), (16.74, 270), (16.82, 110),
    (16.9, 360), (16.97, 230), (17.03, 160), (17.1, 330), (17.16, 210), (17.23, 480), (17.29, 140),
    (17.35, 270), (17.42, 390), (17.48, 175), (17.55, 260), (17.61, 640), (17.67, 200), (17.74, 310),
    (17.8, 130), (17.87, 420), (17.93, 240), (17.99, 180), (18.04, 300), (18.11, 550), (18.17, 205),
    (18.23, 270), (18.3, 140), (18.36, 380), (18.42, 230), (18.49, 720), (18.55, 170), (18.61, 330),
    (18.68, 250), (18.74, 460), (18.8, 195), (18.87, 290), (18.93, 150), (18.99, 400), (19.05, 260),
    (19.11, 180), (19.18, 340), (19.24, 560), (19.3, 215), (19.37, 300), (19.43, 130), (19.49, 420),
    (19.56, 270), (19.62, 830), (19.68, 190), (19.75, 360), (19.81, 240), (19.87, 500), (19.94, 300),
    (19.99, 160), (20.05, 400), (20.12, 260), (20.18, 620), (20.24, 200), (20.31, 340), (20.37, 150),
    (20.43, 470), (20.5, 300), (20.56, 740), (20.62, 230), (20.69, 390), (20.75, 180), (20.81, 560),
    (20.88, 280), (20.94, 360), (20.99, 210), (21.05, 480), (21.11, 250), (21.18, 700), (21.24, 340),
    (21.3, 190), (21.37, 430), (21.43, 280), (21.49, 620), (21.56, 230), (21.62, 380), (21.68, 160),
    (21.75, 520), (13.6, 310), (13.75, 200), (13.9, 380), (14.05, 170), (14.2, 290), (14.35, 220),
    (14.45, 150), (13.45, 250), (14.12, 500), (13.3, 160), (15.3, 85), (16.0, 90), (16.8, 75),
    (17.6, 100), (18.4, 85), (19.2, 110), (20.0, 95), (20.8, 120), (21.5, 110), (15.7, 1100),
    (16.9, 1200), (18.0, 1500), (19.0, 1300), (20.2, 1700), (21.2, 1800), (17.4, 980), (18.6, 1050),
    (19.9, 1200),
]

warm_b = (21.78, 26.49)
very_warm_b = (26.49, 31.78)
zone_span_b = (1, 4000)
ref_temp_b = 21.78

point_col = "#c9c9c9"
ribbon_col = "#7a7a7a"
warm_col = "#f08088"
very_warm_col = "#de7073"
ref_col = "#d04a4a"
text_col = "#1e1e1e"
tick_col = "#3a3a3a"
xlab = r"Temperature recorded on reindeer T$_\mathregular{R}$ (in °C)"


def style_axes(ax):
    for s in ax.spines.values():
        s.set_visible(False)
    ax.tick_params(which="both", length=0, labelsize=13, colors=tick_col)
    ax.grid(which="major", color="#e8e8e8", lw=0.8, zorder=0)
    ax.grid(which="minor", color="#f1f1f1", lw=0.5, zorder=0)
    ax.set_axisbelow(True)


fig = plt.figure(figsize=(8.13, 11.91), dpi=100)

# ---- (a)
ax = fig.add_axes([100 / 813, 1 - 535 / 1191, 713 / 813, 492 / 1191])
style_axes(ax)
pts = obs_a + obs_a_core
ax.scatter([p[0] for p in pts], [p[1] for p in pts], s=9, color=point_col, linewidths=0, zorder=1)
ax.fill_between(temp_fit_a, graze_lo_a, graze_hi_a, color=ribbon_col, alpha=0.52, lw=0, zorder=2)
ax.axvspan(*warm_a, color=warm_col, alpha=0.25, lw=0, zorder=3)
ax.axvspan(*very_warm_a, color=very_warm_col, alpha=0.4, lw=0, zorder=3)
ax.plot(temp_fit_a, graze_fit_a, color="#3f8f2c", lw=1.3, zorder=4)
ax.axvline(ref_temp_a, color=ref_col, lw=0.9, ls=(0, (1.5, 1.5)), zorder=5)
ax.set_xlim(5.98, 32.22)
ax.set_ylim(-3.4, 103.3)
ax.set_xticks([10, 15, 20, 25, 30])
ax.set_xticks([7.5, 12.5, 17.5, 22.5, 27.5, 32.5], minor=True)
ax.set_yticks([0, 25, 50, 75, 100])
ax.set_yticks([12.5, 37.5, 62.5, 87.5], minor=True)
ax.tick_params(axis="x", pad=7)
ax.tick_params(axis="y", pad=5)
ax.text(8.81, 95.7, "R² = 0.208\nP < 2e-16", ha="center", va="top", fontsize=11.5,
        color=text_col, linespacing=1.15, zorder=6)
ax.text(sum(warm_a) / 2, 101.8, "Warm spell", ha="center", va="top", fontsize=12.5,
        color=text_col, zorder=6)
ax.text(sum(very_warm_a) / 2, 101.8, "Very warm\nconditions", ha="center", va="top",
        fontsize=12.5, color=text_col, linespacing=1.15, zorder=6)
ax.set_xlabel(xlab, fontsize=22, color=text_col, va="center")
ax.xaxis.set_label_coords(0.4986, -0.0894)
ax.set_ylabel("Predicted proportion of grazing (in %)", fontsize=22, color=text_col, va="center")
ax.yaxis.set_label_coords(-0.0743, 0.485)
fig.text(34 / 813, 1 - 27 / 1191, "(a)", fontsize=26, fontweight="bold", ha="center",
         va="center", color="#111111")

# ---- (b)
ax = fig.add_axes([113 / 813, 1 - 1136.7 / 1191, 700 / 813, 495 / 1191])
style_axes(ax)
ax.set_yscale("log")
pts = obs_b + obs_b_core
ax.scatter([p[0] for p in pts], [p[1] for p in pts], s=9, color=point_col, linewidths=0, zorder=1)
ax.fill_between(temp_ci_b, speed_lo_b, speed_hi_b, color=ribbon_col, alpha=0.52, lw=0, zorder=2)
ax.add_patch(Rectangle((warm_b[0], zone_span_b[0]), warm_b[1] - warm_b[0],
                       zone_span_b[1] - zone_span_b[0], color=warm_col, alpha=0.25, lw=0, zorder=3))
ax.add_patch(Rectangle((very_warm_b[0], zone_span_b[0]), very_warm_b[1] - very_warm_b[0],
                       zone_span_b[1] - zone_span_b[0], color=very_warm_col, alpha=0.4, lw=0,
                       zorder=3))
ax.plot(temp_fit_b, speed_fit_b, color="#1414e6", lw=1.6, zorder=4)
ax.axvline(ref_temp_b, color=ref_col, lw=0.9, ls=(0, (1.5, 1.5)), zorder=5)
ax.set_xlim(7.2, 32.65)
ax.set_ylim(10 ** -0.172, 10 ** 3.753)
ax.set_xticks([10, 15, 20, 25, 30])
ax.set_xticks([7.5, 12.5, 17.5, 22.5, 27.5, 32.5], minor=True)
ax.yaxis.set_major_locator(FixedLocator([1, 10, 100, 1000]))
ax.yaxis.set_major_formatter(FixedFormatter(["1", "10", "100", "1000"]))
ax.yaxis.set_minor_locator(FixedLocator([10 ** 0.5, 10 ** 1.5, 10 ** 2.5, 10 ** 3.5]))
ax.yaxis.set_minor_formatter(NullFormatter())
ax.tick_params(axis="x", pad=2)
ax.tick_params(axis="y", pad=3)
ax.text(8.73, 3085, "R² = 0.141\nP < 2e-16", ha="center", va="top", fontsize=11.5,
        color=text_col, linespacing=1.15, zorder=6)
ax.text(sum(warm_b) / 2, 3705, "Warm spell", ha="center", va="top", fontsize=12.5,
        color=text_col, zorder=6)
ax.text(sum(very_warm_b) / 2, 3705, "Very warm\nconditions", ha="center", va="top",
        fontsize=12.5, color=text_col, linespacing=1.15, zorder=6)
ax.set_xlabel(xlab, fontsize=21.5, color=text_col, va="center")
ax.xaxis.set_label_coords(0.526, -0.0733)
ax.set_ylabel("Predicted speed (in meter/hour),\nlogarithmic scale", fontsize=24,
              color=text_col, va="center", linespacing=1.1)
ax.yaxis.set_label_coords(-0.110, 0.544)
fig.text(36 / 813, 1 - 619 / 1191, "(b)", fontsize=26, fontweight="bold", ha="center",
         va="center", color="#111111")

fig.savefig("out.png", dpi=100)
